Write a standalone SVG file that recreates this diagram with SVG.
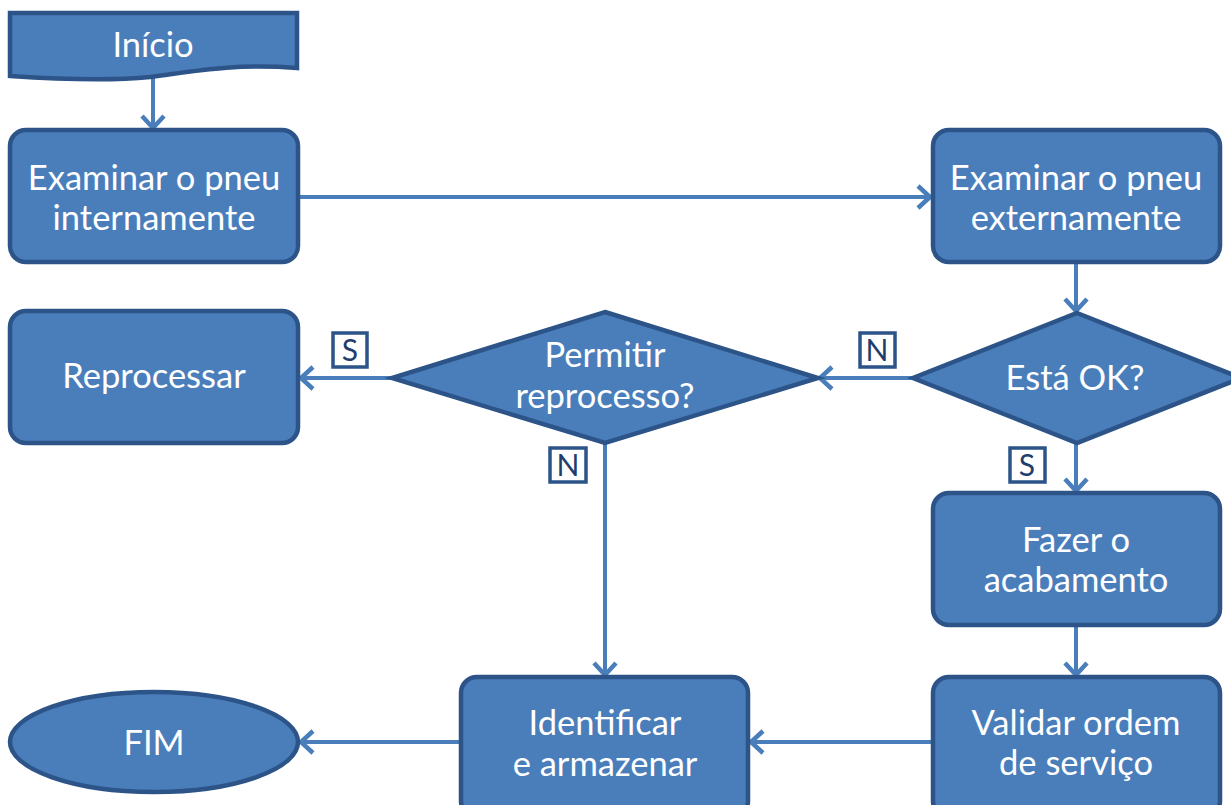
<svg xmlns="http://www.w3.org/2000/svg" width="1231" height="805" viewBox="0 0 1231 805">
<style>
.n{fill:#4A7EBB;stroke:#2C5488;stroke-width:4.5}
.t{font-family:Lato,"Liberation Sans",sans-serif;font-size:34.5px;fill:#ffffff;text-anchor:middle}
.c{fill:none;stroke:#4A7EBB;stroke-width:4}
.lb{fill:#ffffff;stroke:#2C5488;stroke-width:3.5}
.lt{font-family:Lato,"Liberation Sans",sans-serif;font-size:30px;fill:#1F3E6E;text-anchor:middle}
</style>
<defs>
<marker id="a" markerUnits="userSpaceOnUse" markerWidth="30" markerHeight="30" viewBox="-16 -15 20 30" refX="0" refY="0" orient="auto">
<path d="M-13,-11 L-1,0 L-13,11" fill="none" stroke="#4A7EBB" stroke-width="4.5"/>
</marker>
</defs>
<g id="connectors">
<line class="c" x1="153" y1="78" x2="153" y2="129" marker-end="url(#a)"/>
<line class="c" x1="298" y1="197" x2="931" y2="197" marker-end="url(#a)"/>
<line class="c" x1="1076" y1="262" x2="1076" y2="312" marker-end="url(#a)"/>
<line class="c" x1="913" y1="378" x2="819" y2="378" marker-end="url(#a)"/>
<line class="c" x1="392" y1="378" x2="300" y2="378" marker-end="url(#a)"/>
<line class="c" x1="605" y1="443" x2="605" y2="676" marker-end="url(#a)"/>
<line class="c" x1="1076" y1="443" x2="1076" y2="492" marker-end="url(#a)"/>
<line class="c" x1="1076" y1="625" x2="1076" y2="676" marker-end="url(#a)"/>
<line class="c" x1="933" y1="742" x2="750" y2="742" marker-end="url(#a)"/>
<line class="c" x1="461" y1="742" x2="300" y2="742" marker-end="url(#a)"/>
</g>
<g id="inicio">
<path class="n" d="M10,13 H297 V68 C230,63 190,72 150,77 C100,82 40,78 10,76 Z"/>
<text class="t" x="153" y="57">Início</text>
</g>
<g id="examinar-int">
<rect class="n" x="10" y="130" width="288" height="132" rx="16"/>
<text class="t" x="154" y="190">Examinar o pneu</text>
<text class="t" x="154" y="230">internamente</text>
</g>
<g id="examinar-ext">
<rect class="n" x="933" y="130" width="287" height="132" rx="16"/>
<text class="t" x="1076" y="190">Examinar o pneu</text>
<text class="t" x="1076" y="230">externamente</text>
</g>
<g id="reprocessar">
<rect x="120" y="309" width="67" height="4" fill="#2C5488"/>
<rect class="n" x="10" y="311" width="288" height="132" rx="16"/>
<text class="t" x="154" y="388">Reprocessar</text>
</g>
<g id="permitir">
<polygon class="n" points="605,312 818,378 605,443 392,378"/>
<text class="t" x="605" y="367">Permitir</text>
<text class="t" x="605" y="408">reprocesso?</text>
</g>
<g id="esta-ok">
<polygon class="n" points="1077,313 1241,378 1077,443 913,378"/>
<text class="t" x="1075" y="390">Está OK?</text>
</g>
<g id="fazer">
<rect class="n" x="933" y="493" width="287" height="132" rx="16"/>
<text class="t" x="1076" y="552">Fazer o</text>
<text class="t" x="1076" y="592">acabamento</text>
</g>
<g id="validar">
<rect class="n" x="933" y="677" width="287" height="140" rx="16"/>
<text class="t" x="1076" y="735">Validar ordem</text>
<text class="t" x="1076" y="775">de serviço</text>
</g>
<g id="identificar">
<rect class="n" x="461" y="677" width="287" height="140" rx="16"/>
<text class="t" x="605" y="735">Identificar</text>
<text class="t" x="605" y="776">e armazenar</text>
</g>
<g id="fim">
<ellipse class="n" cx="154" cy="742" rx="144" ry="50"/>
<text class="t" x="154" y="755">FIM</text>
</g>
<g id="labels">
<rect class="lb" x="333" y="333" width="34" height="34"/><text class="lt" x="350" y="361">S</text>
<rect class="lb" x="860" y="333" width="35" height="34"/><text class="lt" x="877" y="361">N</text>
<rect class="lb" x="1010" y="448" width="35" height="34"/><text class="lt" x="1027" y="476">S</text>
<rect class="lb" x="550" y="448" width="36" height="34"/><text class="lt" x="568" y="476">N</text>
</g>
</svg>
